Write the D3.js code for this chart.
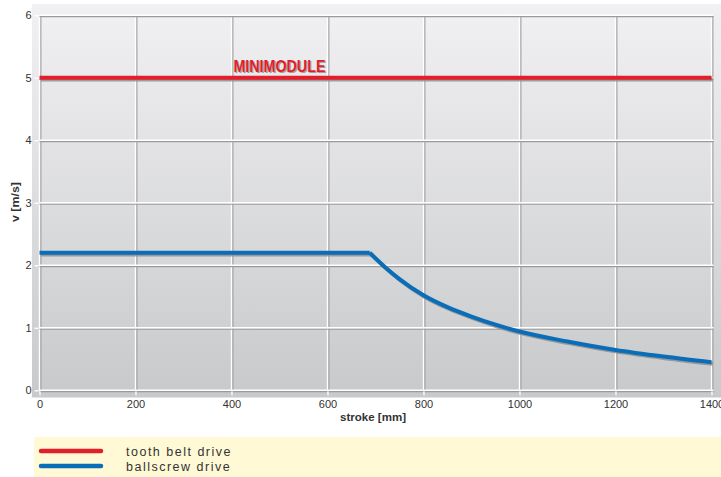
<!DOCTYPE html>
<html><head><meta charset="utf-8">
<script src="https://cdn.jsdelivr.net/npm/d3@7"></script>
<style>
html,body{margin:0;padding:0;background:#fff;}
svg{display:block;}
</style></head>
<body>
<script>
// ---- data ----
const xTicks = [0, 200, 400, 600, 800, 1000, 1200, 1400];
const yTicks = [0, 1, 2, 3, 4, 5, 6];
const seriesNames = ["tooth belt drive", "ballscrew drive"];
const seriesColors = ["#e31e2b", "#0a6db8"];
const beltX = [0, 1400];
const beltV = [5, 5];
const screwFlatX = [0, 688];
const screwFlatV = [2.2, 2.2];
const screwCurveX = [688, 720, 750, 800, 850, 900, 950, 1000, 1100, 1200, 1300, 1400];
const screwCurveV = [2.2, 1.97, 1.78, 1.52, 1.33, 1.18, 1.05, 0.94, 0.78, 0.645, 0.54, 0.45];
const annotation = "MINIMODULE";
const xLabel = "stroke [mm]";
const yLabel = "v [m/s]";

const W = 721, H = 477;
const svg = d3.select("body").append("svg").attr("width", W).attr("height", H);
const font = "'Liberation Sans Narrow','Arial Narrow','Liberation Sans',sans-serif";

const x = d3.scaleLinear().domain([0, 1400]).range([39.5, 711.5]);
const y = d3.scaleLinear().domain([0, 6]).range([390.3, 15.3]);

const defs = svg.append("defs");
const grad = defs.append("linearGradient").attr("id", "bg").attr("x1", 0).attr("y1", 0).attr("x2", 0).attr("y2", 1);
grad.append("stop").attr("offset", "0%").attr("stop-color", "#f1f1f3");
grad.append("stop").attr("offset", "100%").attr("stop-color", "#c8c9cb");

// panel
svg.append("rect").attr("x", 32).attr("y", 4).attr("width", W - 32).attr("height", 393.5).attr("fill", "url(#bg)");

// grid (embossed)
const g = svg.append("g");
xTicks.forEach(t => {
  g.append("line").attr("x1", x(t) + 1.3).attr("x2", x(t) + 1.3).attr("y1", y(6)).attr("y2", y(0) + 2)
    .attr("stroke", "#9a9a9c").attr("stroke-width", 1.2);
  g.append("line").attr("x1", x(t)).attr("x2", x(t)).attr("y1", y(6)).attr("y2", y(0) + 2)
    .attr("stroke", "#ffffff").attr("stroke-width", 1.4);
});
yTicks.forEach(t => {
  g.append("line").attr("x1", x(0)).attr("x2", x(1400) + 2).attr("y1", y(t) + 1.3).attr("y2", y(t) + 1.3)
    .attr("stroke", "#9a9a9c").attr("stroke-width", 1.2);
  g.append("line").attr("x1", x(0)).attr("x2", x(1400) + 2).attr("y1", y(t)).attr("y2", y(t))
    .attr("stroke", "#ffffff").attr("stroke-width", 1.4);
});

// axes
const yAxis = svg.append("g").attr("transform", `translate(${x(0) - 1},0)`)
  .call(d3.axisLeft(y).tickValues(yTicks).tickSize(4).tickPadding(3).tickFormat(d3.format("d")));
const xAxis = svg.append("g").attr("transform", `translate(0,${y(0) + 1})`)
  .call(d3.axisBottom(x).tickValues(xTicks).tickSize(4).tickPadding(3).tickFormat(d3.format("d")));
[yAxis, xAxis].forEach(a => {
  a.select(".domain").remove();
  a.selectAll(".tick line").attr("stroke", "#fff").attr("stroke-width", 1.3);
  a.selectAll(".tick text").attr("fill", "#333").style("font-family", font).style("font-size", "11px");
});
xAxis.selectAll(".tick text").attr("dy", "0.85em");

// lines
const line = d3.line().x(d => x(d[0])).y(d => y(d[1]));
const curve = d3.line().x(d => x(d[0])).y(d => y(d[1])).curve(d3.curveMonotoneX);
const belt = beltX.map((v, i) => [v, beltV[i]]);
const flat = screwFlatX.map((v, i) => [v, screwFlatV[i]]);
const cur = screwCurveX.map((v, i) => [v, screwCurveV[i]]);

function drawSeries(paths, color) {
  paths.forEach(([gen, data]) => {
    svg.append("path").attr("d", gen(data)).attr("fill", "none").attr("stroke", "#8e8e90")
      .attr("stroke-width", 4).attr("stroke-opacity", 0.85).attr("transform", "translate(1.3,1.6)");
  });
  paths.forEach(([gen, data]) => {
    svg.append("path").attr("d", gen(data)).attr("fill", "none").attr("stroke", color)
      .attr("stroke-width", 4).attr("stroke-linejoin", "round");
  });
}
drawSeries([[line, belt]], seriesColors[0]);
drawSeries([[line, flat], [curve, cur]], seriesColors[1]);

// annotation
function ann(dx, dy, color) {
  svg.append("text").attr("x", x(404) + dx).attr("y", 72 + dy).text(annotation)
    .attr("textLength", 92).attr("lengthAdjust", "spacingAndGlyphs")
    .attr("fill", color).style("font-family", font).style("font-weight", "bold").style("font-size", "16px");
}
ann(1.2, 1.2, "#a0a0a0");
ann(0, 0, "#e31e2b");

// axis labels
svg.append("text").attr("x", 340).attr("y", 421)
  .attr("textLength", 66).attr("lengthAdjust", "spacingAndGlyphs")
  .text(xLabel).attr("fill", "#333").style("font-family", font).style("font-weight", "bold")
  .style("font-size", "11.5px");
svg.append("text").attr("transform", `translate(19,222) rotate(-90)`)
  .attr("textLength", 40).attr("lengthAdjust", "spacingAndGlyphs")
  .text(yLabel).attr("fill", "#333").style("font-family", font).style("font-weight", "bold")
  .style("font-size", "11.5px");

// legend
svg.append("rect").attr("x", 34).attr("y", 437).attr("width", W - 34).attr("height", 40).attr("fill", "#fffad5");
seriesNames.forEach((n, i) => {
  const ly = 451 + i * 15;
  svg.append("line").attr("x1", 41).attr("x2", 101).attr("y1", ly).attr("y2", ly)
    .attr("stroke", seriesColors[i]).attr("stroke-width", 4.5).attr("stroke-linecap", "round");
  svg.append("text").attr("x", 126).attr("y", ly + 4.5).text(n).attr("fill", "#333")
    .style("font-family", font).style("font-size", "12.5px").style("letter-spacing", "1.5px");
});
</script>
</body></html>
